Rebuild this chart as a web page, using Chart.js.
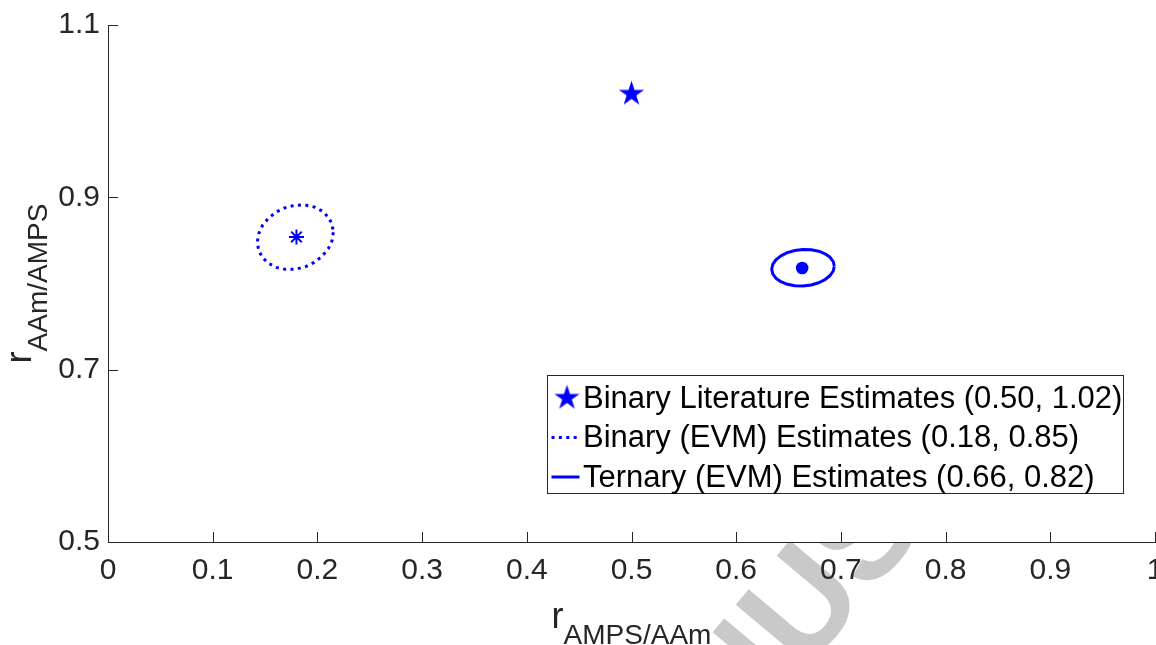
<!DOCTYPE html>
<html>
<head>
<meta charset="utf-8">
<title>Reactivity ratio estimates</title>
<script src="https://cdn.jsdelivr.net/npm/chart.js@4.4.1/dist/chart.umd.min.js"></script>
<style>
  html, body { margin: 0; padding: 0; background: #ffffff; overflow: hidden; }
  canvas { display: block; }
</style>
</head>
<body>
<canvas id="chart" width="1156" height="645"></canvas>
<script>
// ---- axis ticks ----
const xTicks = [0, 0.1, 0.2, 0.3, 0.4, 0.5, 0.6, 0.7, 0.8, 0.9, 1];
const xTickLabels = ['0', '0.1', '0.2', '0.3', '0.4', '0.5', '0.6', '0.7', '0.8', '0.9', '1'];
const yTicks = [0.5, 0.7, 0.9, 1.1];
const yTickLabels = ['0.5', '0.7', '0.9', '1.1'];

// ---- point estimates (r_AMPS/AAm, r_AAm/AMPS) ----
const literatureEstimate = [0.50, 1.02];
const binaryEvmEstimate = [0.18, 0.854];
const ternaryEvmEstimate = [0.663, 0.818];

// ---- joint confidence regions (outline points) ----
const binaryRegionX = [0.2152, 0.2140, 0.2103, 0.2045, 0.1970, 0.1883, 0.1789, 0.1695, 0.1607, 0.1533, 0.1475, 0.1439,
                       0.1426, 0.1439, 0.1475, 0.1533, 0.1607, 0.1695, 0.1789, 0.1883, 0.1970, 0.2045, 0.2103, 0.2140];
const binaryRegionY = [0.8595, 0.8497, 0.8402, 0.8316, 0.8245, 0.8194, 0.8166, 0.8164, 0.8187, 0.8234, 0.8301, 0.8385,
                       0.8479, 0.8577, 0.8673, 0.8759, 0.8830, 0.8881, 0.8909, 0.8911, 0.8888, 0.8841, 0.8773, 0.8690];
const ternaryRegionX = [0.6937, 0.6927, 0.6897, 0.6849, 0.6788, 0.6716, 0.6638, 0.6561, 0.6488, 0.6427, 0.6379, 0.6349,
                        0.6339, 0.6349, 0.6379, 0.6427, 0.6488, 0.6561, 0.6638, 0.6716, 0.6788, 0.6849, 0.6897, 0.6927];
const ternaryRegionY = [0.8201, 0.8145, 0.8093, 0.8046, 0.8009, 0.7983, 0.7972, 0.7974, 0.7991, 0.8021, 0.8062, 0.8112,
                        0.8166, 0.8221, 0.8274, 0.8321, 0.8358, 0.8383, 0.8395, 0.8392, 0.8375, 0.8345, 0.8304, 0.8255];

const FONT = "'Liberation Sans', Arial, Helvetica, sans-serif";
const BLUE = '#0000ff';
const AXIS = '#262626';

const fmt = v => v.toFixed(2);
const pair = p => `(${fmt(p[0])}, ${fmt(p[1])})`;
const closedLoop = (xs, ys) => xs.map((x, i) => ({ x, y: ys[i] })).concat([{ x: xs[0], y: ys[0] }]);

// filled five-pointed star used as a point style
function makeStar(R) {
  const s = Math.ceil(2 * R + 2);
  const c = document.createElement('canvas');
  c.width = c.height = s;
  const g = c.getContext('2d');
  g.beginPath();
  for (let k = 0; k < 10; k++) {
    const r = k % 2 ? R * 0.382 : R;
    const a = -Math.PI / 2 + k * Math.PI / 5;
    g.lineTo(s / 2 + r * Math.cos(a), s / 2 + r * Math.sin(a));
  }
  g.closePath();
  g.fillStyle = BLUE;
  g.fill();
  return c;
}
const starImg = makeStar(13.3);

// light diagonal stamp lettering behind the lower axis area
const stamp = {
  id: 'stamp',
  beforeDraw(chart) {
    const { ctx, chartArea: a, width, height } = chart;
    ctx.save();
    ctx.beginPath();
    ctx.rect(0, a.bottom, width, height - a.bottom);
    ctx.clip();
    const size = 140;
    ctx.font = `bold ${size}px ${FONT}`;
    const text = 'ACCEPTED MANUSCRIPT';
    const pre = ctx.measureText('ACCEPTED MAN').width;
    const wu = ctx.measureText('U').width;
    ctx.translate(798, 602);
    ctx.rotate(-50 * Math.PI / 180);
    ctx.fillStyle = '#c9c9c9';
    ctx.textBaseline = 'alphabetic';
    ctx.textAlign = 'left';
    ctx.fillText(text, -(pre + wu / 2), 0.716 * size / 2);
    ctx.restore();
  }
};

// tick marks pointing into the plot area
const innerTicks = {
  id: 'innerTicks',
  afterDatasetsDraw(chart) {
    const { ctx, chartArea: a, scales: { x, y } } = chart;
    ctx.save();
    ctx.strokeStyle = AXIS;
    ctx.lineWidth = 1;
    ctx.beginPath();
    x.ticks.forEach(t => {
      const px = Math.round(x.getPixelForValue(t.value)) + 0.5;
      ctx.moveTo(px, a.bottom);
      ctx.lineTo(px, a.bottom - 10);
    });
    y.ticks.forEach(t => {
      const py = Math.round(y.getPixelForValue(t.value)) + 0.5;
      ctx.moveTo(a.left, py);
      ctx.lineTo(a.left + 10, py);
    });
    ctx.stroke();
    ctx.restore();
  }
};

// boxed legend inside the plot area
const estimateLegend = {
  id: 'estimateLegend',
  afterDatasetsDraw(chart) {
    const { ctx, chartArea: a } = chart;
    const items = chart.data.datasets.filter(d => d.legendSymbol);
    ctx.save();
    ctx.font = `31px ${FONT}`;
    const textW = Math.max(...items.map(d => ctx.measureText(d.label).width));
    const left = Math.round(a.left + 439) + 0.5;
    const top = Math.round(a.top + 350) + 0.5;
    const textX = left + 35.5;
    const w = Math.round(textX + textW + 1 - left);
    const h = 118;
    ctx.fillStyle = '#ffffff';
    ctx.fillRect(left, top, w, h);
    ctx.strokeStyle = AXIS;
    ctx.lineWidth = 1;
    ctx.strokeRect(left, top, w, h);
    items.forEach((d, i) => {
      const cy = top + 22.5 + i * 39.5;
      if (d.legendSymbol === 'star') {
        ctx.drawImage(starImg, left + 19.5 - starImg.width / 2, cy - starImg.height / 2);
      } else {
        ctx.beginPath();
        ctx.strokeStyle = d.borderColor;
        ctx.lineWidth = d.borderWidth;
        ctx.setLineDash(d.borderDash || []);
        ctx.moveTo(left + 4, cy);
        ctx.lineTo(left + 32, cy);
        ctx.stroke();
        ctx.setLineDash([]);
      }
      ctx.fillStyle = '#000000';
      ctx.textAlign = 'left';
      ctx.textBaseline = 'middle';
      ctx.fillText(d.label, textX, cy + 1);
    });
    ctx.restore();
  }
};

// axis titles with subscripts
const axisTitles = {
  id: 'axisTitles',
  afterDraw(chart) {
    const { ctx, chartArea: a } = chart;
    const baseFont = `36px ${FONT}`;
    const subFont = `28px ${FONT}`;
    const widths = (base, sub) => {
      ctx.font = baseFont; const wb = ctx.measureText(base).width;
      ctx.font = subFont; const ws = ctx.measureText(sub).width;
      return [wb, ws];
    };
    ctx.save();
    ctx.fillStyle = AXIS;
    ctx.textAlign = 'left';
    ctx.textBaseline = 'alphabetic';

    let [wb, ws] = widths('r', 'AMPS/AAm');
    let x0 = (a.left + a.right) / 2 - (wb + ws) / 2;
    ctx.font = baseFont; ctx.fillText('r', x0, 628);
    ctx.font = subFont; ctx.fillText('AMPS/AAm', x0 + wb, 644);

    [wb, ws] = widths('r', 'AAm/AMPS');
    ctx.translate(31, (a.top + a.bottom) / 2);
    ctx.rotate(-Math.PI / 2);
    x0 = -(wb + ws) / 2;
    ctx.font = baseFont; ctx.fillText('r', x0, 0);
    ctx.font = subFont; ctx.fillText('AAm/AMPS', x0 + wb, 16);
    ctx.restore();
  }
};

const tickFont = { family: FONT, size: 30 };

new Chart(document.getElementById('chart'), {
  type: 'scatter',
  data: {
    datasets: [
      {
        label: 'Binary Literature Estimates ' + pair(literatureEstimate),
        legendSymbol: 'star',
        data: [{ x: literatureEstimate[0], y: literatureEstimate[1] }],
        pointStyle: starImg,
        pointRadius: 14,
        showLine: false
      },
      {
        label: 'Binary (EVM) Estimates ' + pair(binaryEvmEstimate),
        legendSymbol: 'line',
        data: closedLoop(binaryRegionX, binaryRegionY),
        showLine: true,
        borderColor: BLUE,
        borderWidth: 3,
        borderDash: [3, 4.4],
        borderCapStyle: 'butt',
        borderJoinStyle: 'round',
        pointRadius: 0,
        tension: 0,
        fill: false
      },
      {
        label: 'Ternary (EVM) Estimates ' + pair(ternaryEvmEstimate),
        legendSymbol: 'line',
        data: closedLoop(ternaryRegionX, ternaryRegionY),
        showLine: true,
        borderColor: BLUE,
        borderWidth: 3,
        borderJoinStyle: 'round',
        pointRadius: 0,
        tension: 0,
        fill: false
      },
      {
        label: 'binary centre',
        data: [{ x: binaryEvmEstimate[0], y: binaryEvmEstimate[1] }],
        pointStyle: 'star',
        pointRadius: 7.5,
        borderColor: BLUE,
        backgroundColor: BLUE,
        borderWidth: 2,
        showLine: false
      },
      {
        label: 'ternary centre',
        data: [{ x: ternaryEvmEstimate[0], y: ternaryEvmEstimate[1] }],
        pointStyle: 'circle',
        pointRadius: 6.3,
        borderWidth: 0,
        backgroundColor: BLUE,
        showLine: false
      }
    ]
  },
  options: {
    responsive: false,
    animation: false,
    devicePixelRatio: 1,
    events: [],
    layout: { autoPadding: false, padding: { left: 0, right: 1, top: 25, bottom: 0 } },
    plugins: {
      legend: { display: false },
      tooltip: { enabled: false },
      title: { display: false }
    },
    scales: {
      x: {
        type: 'linear',
        position: 'bottom',
        min: 0,
        max: 1,
        afterBuildTicks: s => { s.ticks = xTicks.map(v => ({ value: v })); },
        afterFit: s => { s.height = 645 - 542; s.paddingLeft = 0; s.paddingRight = 0; },
        ticks: {
          callback: (v, i) => xTickLabels[i],
          color: AXIS,
          font: tickFont,
          padding: 11,
          maxRotation: 0,
          autoSkip: false
        },
        grid: { display: false, drawTicks: false },
        border: { display: true, color: AXIS, width: 1 }
      },
      y: {
        type: 'linear',
        position: 'left',
        min: 0.5,
        max: 1.1,
        afterBuildTicks: s => { s.ticks = yTicks.map(v => ({ value: v })); },
        afterFit: s => { s.width = 108; s.paddingTop = 0; s.paddingBottom = 0; },
        ticks: {
          callback: (v, i) => yTickLabels[i],
          color: AXIS,
          font: tickFont,
          padding: 8,
          autoSkip: false
        },
        grid: { display: false, drawTicks: false },
        border: { display: true, color: AXIS, width: 1 }
      }
    }
  },
  plugins: [stamp, innerTicks, estimateLegend, axisTitles]
});
</script>
</body>
</html>
